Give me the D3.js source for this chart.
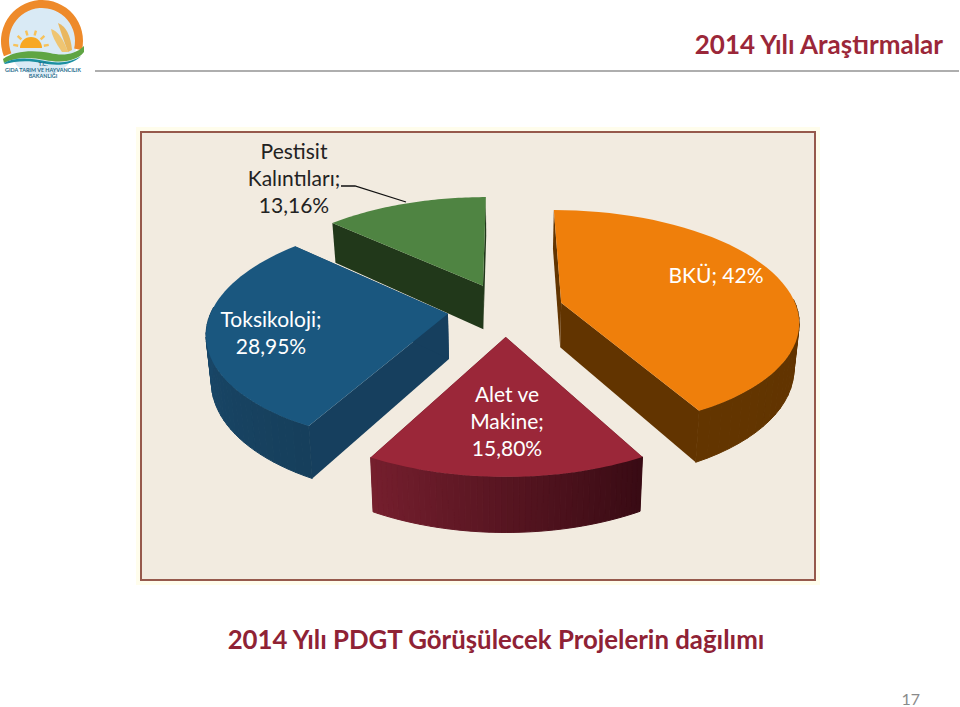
<!DOCTYPE html>
<html><head><meta charset="utf-8">
<script src="https://cdn.jsdelivr.net/npm/d3@7"></script>
<style>html,body{margin:0;padding:0;background:#fff}svg{display:block}text{font-family:Lato,"Open Sans",sans-serif}</style>
</head><body><svg id="c" width="960" height="707"></svg>
<script>
const categories = ["BKÜ","Alet ve Makine","Toksikoloji","Pestisit Kalıntıları"];
const values = [42, 15.80, 28.95, 13.16];
const labelLines = [["BKÜ; 42%"],["Alet ve","Makine;","15,80%"],["Toksikoloji;","28,95%"],["Pestisit","Kalıntıları;","13,16%"]];
const labelAnchors = [[716,283],[507,402],[271,327],[294,159]];
const labelColors = ["#fff","#fff","#fff","#222"];
const topColors = ["#ef7f0b","#9b2739","#1a577f","#4f8442"];
const wallStart = ["#5f3200","#390b14","#163f5c","#21381a"];
const wallEnd = ["#633500","#761f2e","#1b4e73","#21381a"];
const radialColors = ["#623400","#5a1823","#163f5e","#21381a"];
const drawOrder = [3,0,2,1];

const svg = d3.select("#c");
const R=236, E=58, T=0.461, K=0.00065, H=45, X0=505.5, Y0=309.3, SHRINK=0.982;
const pie = d3.pie().sort(null).startAngle(0).endAngle(2*Math.PI);
const arcs = pie(values);
const line = d3.line();
const project=(a,b,low)=>{
  const s=1/(1-K*b);
  return low ? [X0+a*s*SHRINK, Y0+T*b*s+H*s] : [X0+a*s, Y0+T*b*s];
};

// panel
svg.append("rect").attr("x",136).attr("y",127).attr("width",684).attr("height",458).attr("fill","#fffdec");
svg.append("rect").attr("x",141).attr("y",132).attr("width",674).attr("height",448).attr("fill","#f2ebe0").attr("stroke","#96594c").attr("stroke-width",2);

const g=svg.append("g");
drawOrder.forEach(i=>{
  const d=arcs[i], mid=(d.startAngle+d.endAngle)/2;
  const ox=E*Math.sin(mid), oy=-E*Math.cos(mid);
  const pt=(th,r,low)=>project(ox+r*R*Math.sin(th), oy-r*R*Math.cos(th), low);
  const n=48;
  const ts=d3.range(n+1).map(j=>d.startAngle+(d.endAngle-d.startAngle)*j/n);
  const shade=d3.scaleLinear().domain([d.startAngle,d.endAngle]).range([wallStart[i],wallEnd[i]]);
  [d.startAngle,d.endAngle].forEach(th=>{
    g.append("path").attr("d",line([pt(th,0,false),pt(th,1,false),pt(th,1,true),pt(th,0,true)])+"Z")
      .attr("fill",radialColors[i]);
  });
  ts.slice(0,-1).filter(t=>-Math.cos(t)>-0.05).forEach(t=>{
    const t2=t+(d.endAngle-d.startAngle)/n, c=shade(t);
    g.append("path").attr("d",line([pt(t,1,false),pt(t2,1,false),pt(t2,1,true),pt(t,1,true)])+"Z")
      .attr("fill",c).attr("stroke",c).attr("stroke-width",1);
  });
  g.append("path").attr("d",line([pt(0,0,false),...ts.map(t=>pt(t,1,false))])+"Z").attr("fill",topColors[i]);
});

// leader
svg.append("path").attr("d",line([[341,186],[355,186],[406,202]])).attr("fill","none").attr("stroke","#111").attr("stroke-width",1.3);

// labels
labelLines.forEach((ls,i)=>{
  const t=svg.append("text").attr("text-anchor","middle").attr("font-size",21).attr("fill",labelColors[i]);
  ls.forEach((l,j)=>t.append("tspan").attr("x",labelAnchors[i][0]).attr("y",labelAnchors[i][1]+j*27).text(l));
});

// header / footer
svg.append("rect").attr("x",95).attr("y",70).attr("width",864).attr("height",2).attr("fill","#aeaeae");
svg.append("text").attr("x",943).attr("y",54).attr("text-anchor","end").attr("font-size",26).attr("font-weight",700).attr("fill","#9b2739").text("2014 Yılı Araştırmalar");
svg.append("text").attr("x",496).attr("y",649).attr("text-anchor","middle").attr("font-size",25.8).attr("font-weight",700).attr("fill","#8f2235").text("2014 Yılı PDGT Görüşülecek Projelerin dağılımı");
svg.append("text").attr("x",920).attr("y",705).attr("text-anchor","end").attr("font-size",16).attr("fill","#8a8a8a").text("17");

// logo
const L=svg.append("g");
L.append("circle").attr("cx",42).attr("cy",41).attr("r",35).attr("fill","#d9eaf5");
L.append("path").attr("d",d3.arc()({innerRadius:33,outerRadius:41,startAngle:-1.95,endAngle:1.8})).attr("transform","translate(42,41)").attr("fill","#ee8a2a");
L.append("path").attr("d",d3.arc()({innerRadius:0,outerRadius:11,startAngle:-Math.PI/2,endAngle:Math.PI/2})).attr("transform","translate(31,48)").attr("fill","#f7a823");
d3.range(-80,81,32).forEach(a=>{
  const r=a*Math.PI/180;
  L.append("line").attr("x1",31+13*Math.sin(r)).attr("y1",48-13*Math.cos(r)).attr("x2",31+18*Math.sin(r)).attr("y2",48-18*Math.cos(r)).attr("stroke","#f7c25a").attr("stroke-width",2.4);
});
L.append("path").attr("d","M62,52 Q52,38 51,29 Q61,32 68,52Z").attr("fill","#efc572");
L.append("path").attr("d","M68,52 Q62,36 58,23 Q70,28 72,50Z").attr("fill","#e9b75f");
L.append("path").attr("d","M3,59 C15,50 35,50 50,53 C62,56 75,55 84,46 L84,52 C76,62 60,63 45,60 C30,57 15,57 4,63Z").attr("fill","#5fa544");
L.append("path").attr("d","M4,63 C15,57 30,58 45,61 C60,64 72,62 81,56 C72,66 55,66 42,63 C28,60 15,61 5,64Z").attr("fill","#1b8fa0");
[["T.C.",66],["GIDA TARIM VE HAYVANCILIK",72],["BAKANLIĞI",78]].forEach(([s,y])=>{
  L.append("text").attr("x",43).attr("y",y).attr("text-anchor","middle").attr("font-size",5.4).attr("font-weight",700).attr("fill","#1d6a8a").text(s);
});
</script></body></html>
